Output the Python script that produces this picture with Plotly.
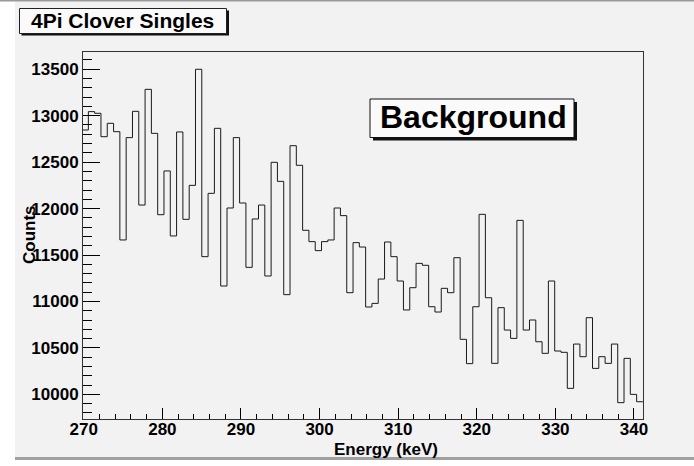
import plotly.graph_objects as go

# ---- data ----
bin_start = 269.78      # keV, lower edge of first bin
bin_width = 0.8018      # keV
counts = [12846, 13044, 13026, 12774, 12918, 12828, 11662, 12764, 13047, 12038,
          13284, 12810, 11934, 12405, 11705, 12825, 11884, 12250, 13500, 11482,
          12164, 12864, 11166, 12006, 12764, 12060, 11367, 11888, 12038, 11274,
          12498, 12293, 11073, 12677, 12466, 11766, 11644, 11547, 11644, 11662,
          12006, 11924, 11094, 11633, 11586, 10940, 10979, 11241, 11640, 11482,
          11220, 10908, 11148, 11410, 11389, 10943, 10886, 11141, 11094, 11471,
          10592, 10330, 10943, 11938, 11040, 10333, 10933, 10692, 10602, 11873,
          10692, 10800, 10566, 10441, 11220, 10466, 10452, 10064, 10541, 10405,
          10825, 10279, 10405, 10333, 10541, 9910, 10387, 9999, 9920]
title_text = "4Pi Clover Singles"
label_text = "Background"
x_title = "Energy (keV)"
y_title = "Counts"

edges = [bin_start + i * bin_width for i in range(len(counts) + 1)]
xs = edges
ys = counts + [counts[-1]]

# ---- layout geometry (pixels) ----
W, H = 694, 466
L, R, T, B = 83, 51, 52, 47
PW, PH = W - L - R, H - T - B

def px(x):
    return (x - L) / PW

def py(y):
    return (H - B - y) / PH

FONT = "Liberation Sans"
BG = "#f2f2f2"

fig = go.Figure()
fig.add_trace(go.Scatter(x=xs, y=ys, mode="lines", line_shape="hv",
                         line=dict(color="#1a1a1a", width=1), hoverinfo="skip",
                         showlegend=False))

def rect(x0, y0, x1, y1, fill, line=None, layer="above"):
    return dict(type="rect", xref="paper", yref="paper",
                x0=px(x0), x1=px(x1), y0=py(y1), y1=py(y0),
                fillcolor=fill, layer=layer,
                line=dict(width=1 if line else 0, color=line or fill))

shapes = [
    rect(0, 0, 15, 466, "#ffffff"),
    rect(0, 460, 694, 466, "#ffffff"),
    rect(0, 0, 694, 1.5, "#9a9a9a"),
    rect(15, 457, 694, 460, "#a0a0a0"),
    # title box with shadow
    rect(21.5, 10.5, 229, 35.5, "#111111"),
    rect(19.5, 8.5, 226.5, 33.5, "#fafafa", line="#222222"),
    # Background box with shadow
    rect(373, 102, 577, 140.5, "#111111"),
    rect(370, 99, 574, 137.5, "#fafafa", line="#111111"),
]

def ann(text, x, y, size, angle=0):
    return dict(text=text, xref="paper", yref="paper", x=px(x), y=py(y),
                xanchor="center", yanchor="middle", showarrow=False,
                textangle=angle,
                font=dict(family=FONT, size=size, color="#000000", weight="bold"))

annotations = [
    ann(title_text, 122, 21, 21),
    ann(label_text, 473, 117, 32),
    ann(x_title, 386, 449, 17),
    ann(y_title, 29, 235, 17, angle=-90),
]

axis_common = dict(showline=True, mirror=True, linecolor="#333333", linewidth=1,
                   ticks="inside", tickcolor="#000000", tickwidth=1,
                   showgrid=False, zeroline=False, tickformat="d",
                   tickfont=dict(family=FONT, size=17, color="#000000", weight="bold"))

fig.update_layout(
    width=W, height=H,
    margin=dict(l=L, r=R, t=T, b=B),
    paper_bgcolor=BG, plot_bgcolor=BG,
    shapes=shapes, annotations=annotations,
    xaxis=dict(range=[269.9, 341.15], tick0=270, dtick=10, ticklen=11,
               ticklabelstandoff=-5,
               minor=dict(dtick=2, ticklen=5, ticks="inside", tickcolor="#000000"),
               **axis_common),
    yaxis=dict(range=[9734, 13686], tick0=10000, dtick=500, ticklen=17,
               ticklabelstandoff=0,
               minor=dict(dtick=100, ticklen=9, ticks="inside", tickcolor="#000000"),
               **axis_common),
)

fig.write_html("out.html")
